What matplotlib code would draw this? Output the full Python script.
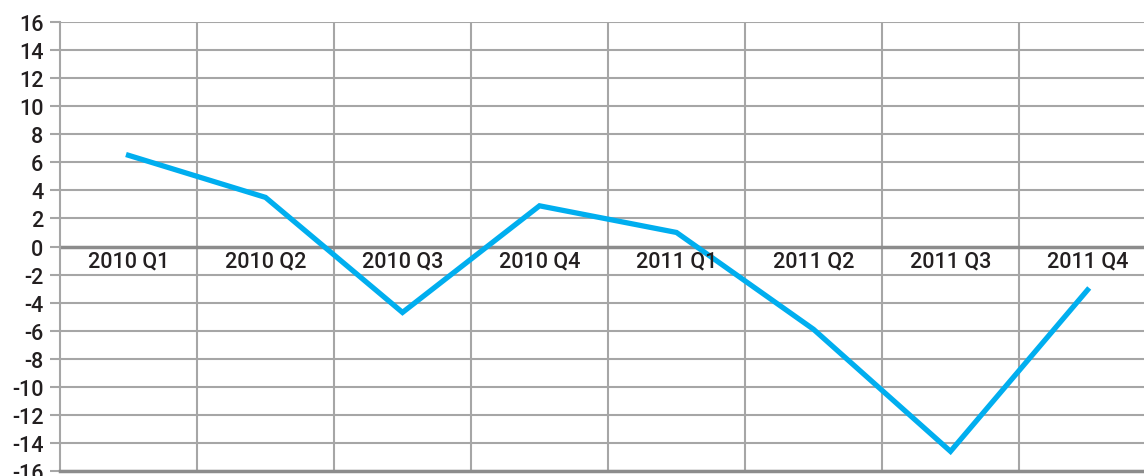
import matplotlib
matplotlib.use("Agg")
import matplotlib.pyplot as plt
import numpy as np

categories = ["2010 Q1", "2010 Q2", "2010 Q3", "2010 Q4", "2011 Q1", "2011 Q2", "2011 Q3", "2011 Q4"]
values = [6.5, 3.5, -4.7, 2.9, 1.0, -5.9, -14.6, -3.1]
yticks = list(range(-16, 17, 2))

plt.rcParams['font.family'] = ['Roboto', 'DejaVu Sans']

W, H = 1144, 477
fig = plt.figure(figsize=(W/100, H/100), dpi=100)
left, right, top, bottom = 60, 1156, 23, 472
ax = fig.add_axes([left/W, 1-bottom/H, (right-left)/W, (bottom-top)/H])

x = np.arange(len(categories))
ax.set_xlim(-0.5, len(categories)-0.5)
ax.set_ylim(-16, 16)

grid_c = "#a6a6a6"
for yv in yticks:
    if yv != 0:
        ax.axhline(yv, color=grid_c, lw=1.5, zorder=1)
for b in np.arange(0.5, len(categories)-0.5, 1):
    ax.axvline(b, color=grid_c, lw=1.5, zorder=1)
ax.axhline(0, color="#8c8c8c", lw=2.5, zorder=2)

ax.plot(x, values, color="#00aeef", lw=3.8, zorder=3, solid_joinstyle='miter')

for xi, c in zip(x, categories):
    ax.text(xi, -0.3, c, ha='center', va='top', fontsize=15.5, fontweight='medium', color="#231f20", zorder=4)

ax.set_yticks(yticks)
ax.set_yticklabels([str(v) for v in yticks], fontsize=15.5, fontweight='medium', color="#231f20")
ax.set_xticks([])
ax.tick_params(axis='y', length=7, width=1.5, color=grid_c, pad=5)
for s in ['top', 'right']:
    ax.spines[s].set_visible(False)
ax.spines['left'].set_color(grid_c)
ax.spines['left'].set_linewidth(1.5)
ax.spines['bottom'].set_color("#8c8c8c")
ax.spines['bottom'].set_linewidth(2.5)

fig.savefig("out.png", dpi=100)
